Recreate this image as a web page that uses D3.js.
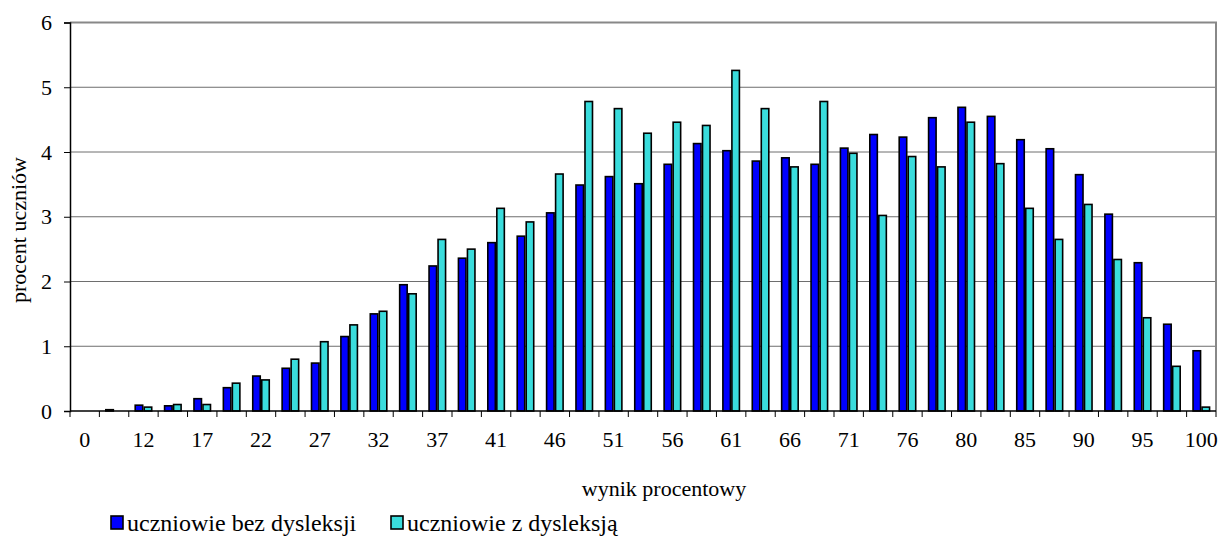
<!DOCTYPE html>
<html>
<head>
<meta charset="utf-8">
<script src="https://cdn.jsdelivr.net/npm/d3@7"></script>
<style>
  body { margin: 0; background: #fff; }
  svg text { font-family: "Liberation Serif", "Times New Roman", "DejaVu Serif", serif !important; fill: #000; }
</style>
</head>
<body>
<svg id="chart"></svg>
<script>
// categories (percent score); only every other one is labelled on the axis
const categories = ["0", "10", "12", "15", "17", "20", "22", "24", "27", "29", "32", "34", "37", "39",
  "41", "44", "46", "49", "51", "54", "56", "59", "61", "63", "66", "68", "71", "73", "76", "78",
  "80", "83", "85", "88", "90", "93", "95", "98", "100"];

const seriesNames = ["uczniowie bez dysleksji", "uczniowie z dysleksją"];
const seriesColors = ["#0000ff", "#3adcdc"];

const bezDysleksji = [0, 0.02, 0.09, 0.08, 0.19, 0.36, 0.54, 0.66, 0.74, 1.15, 1.50, 1.95, 2.24, 2.36,
  2.60, 2.70, 3.06, 3.49, 3.62, 3.51, 3.81, 4.13, 4.02, 3.86, 3.91, 3.81, 4.06, 4.27, 4.23, 4.53,
  4.69, 4.55, 4.19, 4.05, 3.65, 3.04, 2.29, 1.34, 0.93];

const zDysleksja = [0, 0, 0.06, 0.10, 0.10, 0.43, 0.48, 0.80, 1.07, 1.33, 1.54, 1.81, 2.65, 2.50,
  3.13, 2.92, 3.66, 4.78, 4.67, 4.29, 4.46, 4.41, 5.26, 4.67, 3.77, 4.78, 3.98, 3.02, 3.93, 3.77,
  4.46, 3.82, 3.13, 2.65, 3.19, 2.34, 1.44, 0.69, 0.06];

const yTicks = [0, 1, 2, 3, 4, 5, 6];

const width = 1218, height = 538;
const margin = {top: 22.5, right: 2, bottom: 127, left: 70};
const innerW = width - margin.left - margin.right;
const innerH = height - margin.top - margin.bottom;
const fontFam = '"Liberation Serif", "Times New Roman", "DejaVu Serif", serif';

const data = categories.map((c, i) => ({cat: c, values: [bezDysleksji[i], zDysleksja[i]]}));

const svg = d3.select('#chart')
  .attr('width', width)
  .attr('height', height)
  .attr('font-family', fontFam);

const chart = svg.append('g')
  .attr('transform', `translate(${margin.left}, ${margin.top})`);

const xScale = d3.scaleBand()
  .domain(categories)
  .range([0, innerW])
  .paddingInner(0)
  .paddingOuter(0);

const xSub = d3.scaleBand()
  .domain([0, 1])
  .range([0, xScale.bandwidth()])
  .paddingInner(0)
  .paddingOuter(0.63);

const yScale = d3.scaleLinear()
  .domain([0, 6])
  .range([innerH, 0]);

// gridlines
chart.append('g')
  .selectAll('line')
  .data(yTicks.filter(d => d > 0 && d < 6))
  .enter()
  .append('line')
    .attr('x1', 0)
    .attr('x2', innerW)
    .attr('y1', d => yScale(d))
    .attr('y2', d => yScale(d))
    .attr('stroke', '#6e6e6e')
    .attr('stroke-width', 1);

// top and right frame
chart.append('path')
  .attr('d', `M0,${yScale(6)}H${innerW}V${innerH}`)
  .attr('fill', 'none')
  .attr('stroke', '#888')
  .attr('stroke-width', 2);

// bars
const groups = chart.append('g')
  .selectAll('g')
  .data(data)
  .enter()
  .append('g')
    .attr('transform', d => `translate(${xScale(d.cat)}, 0)`);

groups.selectAll('rect')
  .data(d => d.values.map((v, k) => ({k: k, v: v})).filter(e => e.v > 0))
  .enter()
  .append('rect')
    .attr('x', e => xSub(e.k) + 0.75)
    .attr('width', xSub.bandwidth() - 1.5)
    .attr('y', e => yScale(e.v))
    .attr('height', e => innerH - yScale(e.v))
    .attr('fill', e => seriesColors[e.k])
    .attr('stroke', '#000')
    .attr('stroke-width', 1.6);

// x axis: ticks on category boundaries, labels on every other category
const xAxisG = chart.append('g')
  .attr('transform', `translate(0, ${innerH})`);

xAxisG.append('line')
  .attr('x1', 0).attr('x2', innerW)
  .attr('stroke', '#000').attr('stroke-width', 1.5);

xAxisG.selectAll('.tickmark')
  .data(categories.concat(['end']))
  .enter()
  .append('line')
    .attr('class', 'tickmark')
    .attr('x1', (d, i) => i * xScale.step())
    .attr('x2', (d, i) => i * xScale.step())
    .attr('y1', 0)
    .attr('y2', 6)
    .attr('stroke', '#000')
    .attr('stroke-width', 1);

xAxisG.selectAll('.ticklabel')
  .data(categories.filter((d, i) => i % 2 === 0))
  .enter()
  .append('text')
    .attr('class', 'ticklabel')
    .attr('x', d => xScale(d) + xScale.bandwidth() / 2)
    .attr('y', 36)
    .attr('text-anchor', 'middle')
    .style('font-size', '22px')
    .text(d => d);

// y axis
const yAxis = d3.axisLeft(yScale)
  .tickValues(yTicks)
  .tickSize(6)
  .tickPadding(12)
  .tickFormat(d3.format('d'));

const yAxisG = chart.append('g')
  .attr('class', 'axis y-axis')
  .call(yAxis)
  .attr('font-family', fontFam);

yAxisG.select('.domain').attr('stroke', '#000').attr('stroke-width', 1.5);
yAxisG.selectAll('.tick line').attr('stroke', '#000');
yAxisG.selectAll('.tick text')
  .style('font-size', '22px');

// axis titles
svg.append('text')
  .attr('transform', 'translate(26, 230) rotate(-90)')
  .attr('text-anchor', 'middle')
  .style('font-size', '22px')
  .text('procent uczniów');

svg.append('text')
  .attr('x', 664)
  .attr('y', 496)
  .attr('text-anchor', 'middle')
  .style('font-size', '22px')
  .text('wynik procentowy');

// legend
const legendX = [111, 391];
const legend = svg.append('g');

legend.selectAll('rect')
  .data(seriesNames)
  .enter()
  .append('rect')
    .attr('x', (d, i) => legendX[i])
    .attr('y', 516)
    .attr('width', 12)
    .attr('height', 13)
    .attr('fill', (d, i) => seriesColors[i])
    .attr('stroke', '#000')
    .attr('stroke-width', 1.6);

legend.selectAll('text')
  .data(seriesNames)
  .enter()
  .append('text')
    .attr('x', (d, i) => legendX[i] + 16)
    .attr('y', 531)
    .style('font-size', '24px')
    .text(d => d);
</script>
</body>
</html>
